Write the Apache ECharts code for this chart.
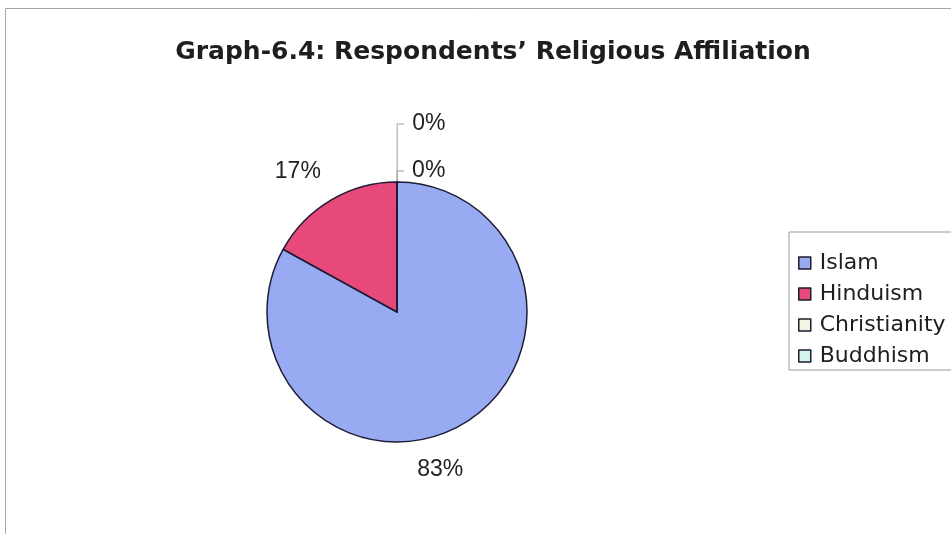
<!DOCTYPE html>
<html>
<head>
<meta charset="utf-8">
<script src="https://cdn.jsdelivr.net/npm/echarts@6/dist/echarts.min.js"></script>
<style>
  html, body { margin: 0; padding: 0; background: #ffffff; }
  #chart { width: 951px; height: 534px; }
</style>
</head>
<body>
<div id="chart"></div>
<script>
// Religious affiliation of respondents (percent)
const religions = ['Islam', 'Hinduism', 'Christianity', 'Buddhism'];
const shares = [83, 17, 0, 0];
const sliceColors = ['#98aaf2', '#e8497b', '#f4f4e4', '#d6f4ee'];

// Pie geometry
const CX = 397, CY = 312, R = 130;

// Where the non-zero percentage labels sit around the pie:
// angle measured clockwise from 12 o'clock, distance as a multiple of R
const labelPolar = {
  0: { angle: 164.7, dist: 1.26 },
  1: { angle: 324.7, dist: 1.32 }
};

// Leader-line lengths for the zero-share slices that meet at 12 o'clock
const zeroLeader = { 2: 11, 3: 58 };

const chart = echarts.init(document.getElementById('chart'), null, { renderer: 'canvas' });

const pieData = religions.map((name, i) => {
  const item = {
    name: name,
    value: shares[i],
    itemStyle: { color: sliceColors[i] }
  };
  if (zeroLeader[i] != null) {
    item.labelLine = { show: true, length: zeroLeader[i], length2: 7 };
  } else {
    item.labelLine = { show: false };
  }
  return item;
});

chart.setOption({
  backgroundColor: '#ffffff',
  animation: false,
  title: {
    text: 'Graph-6.4: Respondents\u2019 Religious Affiliation',
    left: 488,
    top: 35,
    textAlign: 'center',
    textStyle: {
      fontFamily: 'DejaVu Sans',
      fontWeight: 'bold',
      fontSize: 25,
      color: '#1e1e1e'
    }
  },
  legend: {
    orient: 'vertical',
    left: 789,
    top: 232,
    padding: [20, 12, 3, 9],
    itemWidth: 12,
    itemHeight: 12,
    itemGap: 9,
    icon: 'rect',
    borderColor: '#9a9a9a',
    borderWidth: 1,
    backgroundColor: '#ffffff',
    itemStyle: { borderColor: '#1c1c2a', borderWidth: 1.5 },
    textStyle: {
      fontFamily: 'DejaVu Sans',
      fontSize: 22,
      color: '#1e1e1e',
      padding: [0, 0, 0, 4]
    },
    data: religions
  },
  graphic: [{
    type: 'rect',
    silent: true,
    z: -1,
    shape: { x: 5.5, y: 8.5, width: 1000, height: 600 },
    style: { fill: 'none', stroke: '#a6a6a6', lineWidth: 1 }
  }],
  series: [{
    type: 'pie',
    center: [CX, CY],
    radius: R,
    startAngle: 89.95,
    clockwise: true,
    avoidLabelOverlap: false,
    percentPrecision: 0,
    itemStyle: { borderColor: '#1c1c36', borderWidth: 1.5 },
    label: {
      show: true,
      position: 'outside',
      formatter: '{d}%',
      fontFamily: 'Liberation Sans',
      fontSize: 23,
      color: '#222222',
      distanceToLabelLine: 8
    },
    labelLine: {
      show: false,
      lineStyle: { color: '#a0a0a0', width: 1 }
    },
    labelLayout: function (params) {
      const p = labelPolar[params.dataIndex];
      if (!p) return;
      const a = p.angle * Math.PI / 180;
      return {
        x: CX + Math.sin(a) * p.dist * R,
        y: CY - Math.cos(a) * p.dist * R,
        align: 'center',
        verticalAlign: 'middle'
      };
    },
    emphasis: { disabled: true },
    data: pieData
  }]
});
</script>
</body>
</html>
